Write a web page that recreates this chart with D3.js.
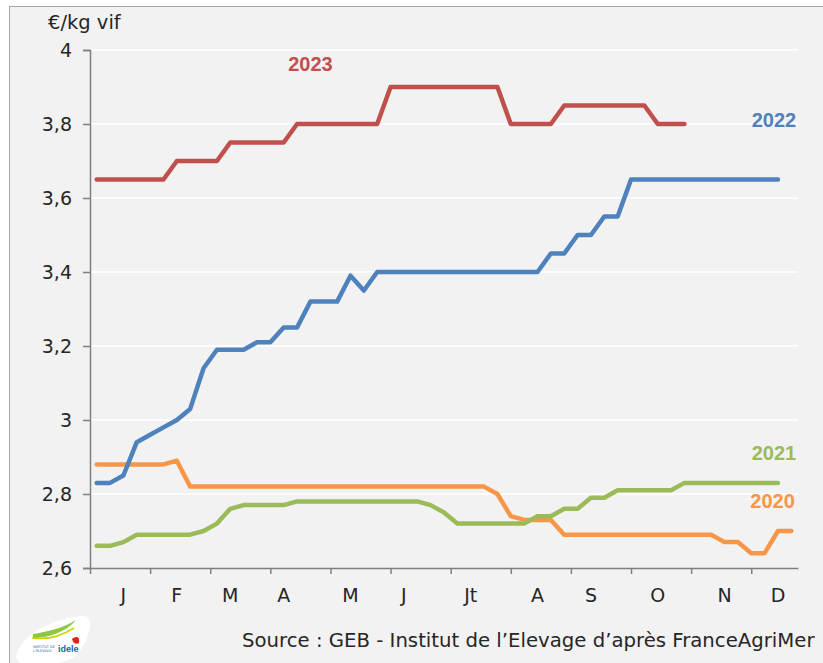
<!DOCTYPE html>
<html>
<head>
<meta charset="utf-8">
<script src="https://cdn.jsdelivr.net/npm/d3@7"></script>
<style>
  body { margin: 0; background: #fff; }
  #chart { width: 823px; height: 663px; }
  text { font-family: "DejaVu Sans", sans-serif; }
</style>
</head>
<body>
<div id="chart"></div>
<script>
// Prix hebdomadaire (€/kg vif), semaines 1 à 53
const weeks = d3.range(1, 54);

const values2023 = [3.65, 3.65, 3.65, 3.65, 3.65, 3.65, 3.70, 3.70, 3.70, 3.70,
  3.75, 3.75, 3.75, 3.75, 3.75, 3.80, 3.80, 3.80, 3.80, 3.80,
  3.80, 3.80, 3.90, 3.90, 3.90, 3.90, 3.90, 3.90, 3.90, 3.90,
  3.90, 3.80, 3.80, 3.80, 3.80, 3.85, 3.85, 3.85, 3.85, 3.85,
  3.85, 3.85, 3.80, 3.80, 3.80];

const values2022 = [2.83, 2.83, 2.85, 2.94, 2.96, 2.98, 3.00, 3.03, 3.14, 3.19,
  3.19, 3.19, 3.21, 3.21, 3.25, 3.25, 3.32, 3.32, 3.32, 3.39,
  3.35, 3.40, 3.40, 3.40, 3.40, 3.40, 3.40, 3.40, 3.40, 3.40,
  3.40, 3.40, 3.40, 3.40, 3.45, 3.45, 3.50, 3.50, 3.55, 3.55,
  3.65, 3.65, 3.65, 3.65, 3.65, 3.65, 3.65, 3.65, 3.65, 3.65,
  3.65, 3.65];

const values2021 = [2.66, 2.66, 2.67, 2.69, 2.69, 2.69, 2.69, 2.69, 2.70, 2.72,
  2.76, 2.77, 2.77, 2.77, 2.77, 2.78, 2.78, 2.78, 2.78, 2.78,
  2.78, 2.78, 2.78, 2.78, 2.78, 2.77, 2.75, 2.72, 2.72, 2.72,
  2.72, 2.72, 2.72, 2.74, 2.74, 2.76, 2.76, 2.79, 2.79, 2.81,
  2.81, 2.81, 2.81, 2.81, 2.83, 2.83, 2.83, 2.83, 2.83, 2.83,
  2.83, 2.83];

const values2020 = [2.88, 2.88, 2.88, 2.88, 2.88, 2.88, 2.89, 2.82, 2.82, 2.82,
  2.82, 2.82, 2.82, 2.82, 2.82, 2.82, 2.82, 2.82, 2.82, 2.82,
  2.82, 2.82, 2.82, 2.82, 2.82, 2.82, 2.82, 2.82, 2.82, 2.82,
  2.80, 2.74, 2.73, 2.73, 2.73, 2.69, 2.69, 2.69, 2.69, 2.69,
  2.69, 2.69, 2.69, 2.69, 2.69, 2.69, 2.69, 2.67, 2.67, 2.64,
  2.64, 2.70, 2.70];

const monthLabels = ["J", "F", "M", "A", "M", "J", "Jt", "A", "S", "O", "N", "D"];
const monthWeeks = [3, 7, 11, 15, 20, 24, 29, 34, 38, 43, 48, 52];
const tickWeeks = [0.5, 5, 9.5, 14, 18.5, 23, 27.5, 32, 36.5, 41, 45.5, 50];
const yTicks = [2.6, 2.8, 3, 3.2, 3.4, 3.6, 3.8, 4];

const series = [
  { year: "2020", values: values2020, color: "#f79646" },
  { year: "2021", values: values2021, color: "#9bbb59" },
  { year: "2022", values: values2022, color: "#4f81bd" },
  { year: "2023", values: values2023, color: "#c0504d" }
];

// libellés des années : semaine et valeur où ils sont posés
const labelPos = {
  "2023": { week: 17, value: 3.943 },
  "2022": { week: 51.7, value: 3.792 },
  "2021": { week: 51.7, value: 2.892 },
  "2020": { week: 51.6, value: 2.762 }
};

const width = 823, height = 663;
const margin = { top: 50, right: 25, bottom: 95, left: 90 };

const svg = d3.select("#chart").append("svg")
  .attr("width", width)
  .attr("height", height);

// --- fond ---
svg.append("rect")
  .attr("x", 9.5).attr("y", 6.5)
  .attr("width", width).attr("height", height)
  .attr("fill", "#f2f2f2")
  .attr("stroke", "#a6a6a6");

// --- scales ---
const x = d3.scaleLinear()
  .domain([0.5, 53.5])
  .range([margin.left, width - margin.right]);

const y = d3.scaleLinear()
  .domain([2.6, 4])
  .range([height - margin.bottom, margin.top]);

// --- grille ---
svg.append("g")
  .selectAll("line")
  .data(yTicks.slice(1))
  .join("line")
  .attr("x1", x(0.5)).attr("x2", x(53.5))
  .attr("y1", d => y(d)).attr("y2", d => y(d))
  .attr("stroke", "#ffffff")
  .attr("stroke-width", 1.5);

const fmt = d => String(d).replace(".", ",");

// --- axes ---
const yAxis = svg.append("g")
  .attr("transform", `translate(${margin.left},0)`)
  .call(d3.axisLeft(y).tickValues(yTicks).tickFormat(fmt).tickSize(7).tickPadding(11));

const xAxis = svg.append("g")
  .attr("transform", `translate(0,${height - margin.bottom})`)
  .call(d3.axisBottom(x).tickValues(tickWeeks).tickFormat("").tickSize(6).tickSizeOuter(0));

[yAxis, xAxis].forEach(g => {
  g.select(".domain").attr("stroke", "#7f7f7f").attr("stroke-width", 1.5);
  g.selectAll(".tick line").attr("stroke", "#7f7f7f").attr("stroke-width", 1.5);
});
yAxis.selectAll(".tick text")
  .attr("font-size", 19)
  .attr("fill", "#262626");

// mois
svg.append("g")
  .selectAll("text")
  .data(monthLabels)
  .join("text")
  .attr("x", (d, i) => x(monthWeeks[i]))
  .attr("y", height - margin.bottom + 34)
  .attr("text-anchor", "middle")
  .attr("font-size", 19)
  .attr("fill", "#262626")
  .text(d => d);

// --- lignes ---
const line = d3.line()
  .x((d, i) => x(weeks[i]))
  .y(d => y(d));

svg.append("g")
  .selectAll("path")
  .data(series)
  .join("path")
  .attr("d", d => line(d.values))
  .attr("fill", "none")
  .attr("stroke", d => d.color)
  .attr("stroke-width", 4.5)
  .attr("stroke-linejoin", "round")
  .attr("stroke-linecap", "round");

// --- libellés des séries ---
svg.append("g")
  .selectAll("text")
  .data(series)
  .join("text")
  .attr("x", d => x(labelPos[d.year].week))
  .attr("y", d => y(labelPos[d.year].value))
  .attr("text-anchor", "middle")
  .attr("font-size", 20)
  .attr("font-weight", "bold")
  .style("font-family", "'Liberation Sans', Arial, sans-serif")
  .attr("fill", d => d.color)
  .text(d => d.year);

// --- titre axe Y ---
svg.append("text")
  .attr("x", 48)
  .attr("y", 29)
  .attr("font-size", 19.5)
  .attr("fill", "#262626")
  .text("€/kg vif");

// --- source ---
svg.append("text")
  .attr("x", 242)
  .attr("y", 647)
  .attr("font-size", 19.7)
  .attr("fill", "#262626")
  .text("Source : GEB - Institut de l’Elevage d’après FranceAgriMer");

// --- logo ---
const logo = svg.append("g").attr("transform", "translate(16,612)");
logo.append("path")
  .attr("d", "M0,45 C4,25 30,8 66,4 C76,3 76,14 70,28 C64,44 52,52 30,52 L4,52 Z")
  .attr("fill", "#ffffff");
logo.append("path")
  .attr("d", "M17,22 C30,20 48,16 60,8 C50,20 32,26 17,26 Z")
  .attr("fill", "#8dc63f");
logo.append("path")
  .attr("d", "M16,26 C30,28 44,25 58,16")
  .attr("fill", "none").attr("stroke", "#c8d400").attr("stroke-width", 1.5);
logo.append("text")
  .attr("x", 42).attr("y", 40)
  .attr("font-size", 9).attr("font-weight", "bold")
  .style("font-family", "'Liberation Sans', Arial, sans-serif")
  .attr("fill", "#1d5fa8")
  .text("idele");
logo.append("text")
  .attr("x", 17).attr("y", 36)
  .attr("font-size", 3.5)
  .attr("fill", "#1d5fa8")
  .text("INSTITUT DE");
logo.append("text")
  .attr("x", 17).attr("y", 40)
  .attr("font-size", 3.5)
  .attr("fill", "#1d5fa8")
  .text("L'ÉLEVAGE");
logo.append("path")
  .attr("d", "M56,27 C60,24 64,24 63,31 C60,33 57,31 56,27 Z")
  .attr("fill", "#e2231a");
</script>
</body>
</html>
